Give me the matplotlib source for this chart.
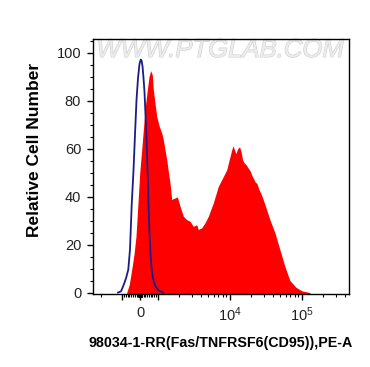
import matplotlib
matplotlib.use("Agg")
import matplotlib.pyplot as plt
import matplotlib.patheffects as pe
from matplotlib.ticker import FixedLocator, FixedFormatter
import numpy as np

plt.rcParams['font.family'] = ['Liberation Sans', 'DejaVu Sans']
plt.rcParams['mathtext.fontset'] = 'custom'
plt.rcParams['mathtext.rm'] = 'Liberation Sans'
plt.rcParams['mathtext.it'] = 'Liberation Sans'

# ---- data (fluorescence intensity vs relative cell number) ----
red_x = [-760, -611, -474, -343, -229, -114, -11, 97, 189, 303, 417, 514, 611, 703, 760, 857, 954,
         1059, 1144, 1204, 1271, 1342, 1413, 1491, 1575, 1668, 1750, 1884, 2054, 2284, 2545, 2829,
         3143, 3500, 3684, 4110, 4566, 5075, 5957, 6993, 8210, 9150, 10160, 10730, 11180, 11720,
         12290, 12920, 13780, 14450, 15160, 15910, 16960, 18080, 19270, 20550, 21540, 22590, 24080,
         25670, 27370, 29440, 32070, 36370, 42620, 50000, 58600, 68770, 83580, 101600, 130900]
red_y = [0, 3.4, 9.6, 15.9, 23.5, 37.5, 50.4, 59.5, 67.8, 77.5, 84.5, 90.0, 92.5, 90.7, 84.5, 78.9, 73.4,
         69.2, 66.5, 63.7, 59.5, 55.4, 50.4, 45.7, 38.7, 39.2, 39.4, 39.9, 36.0, 31.8, 30.4, 29.7,
         27.6, 28.3, 26.3, 27.0, 29.1, 31.8, 37.4, 44.3, 48.4, 51.2, 56.7, 59.5, 61.2, 59.5,
         57.9, 59.9, 60.8, 58.8, 55.4, 54.1, 53.3, 52.0, 50.8, 48.7, 47.5, 46.2, 45.4,
         42.9, 41.2, 38.7, 35.4, 30.4, 25.0, 18.0, 11.0, 5.1, 2.2, 0.7, 0]

blue_x = [-1155, -1049, -943, -800, -669, -571, -474, -371, -286, -200, -114, -29, 40, 86, 143, 200,
          257, 314, 371, 429, 486, 543, 600, 669, 743, 857, 1016, 1192]
blue_y = [0, 0.5, 3.0, 5.9, 9.6, 18.0, 36.7, 51.0, 65.8, 80.3, 89.4, 95.3, 97.1, 96.8, 94.4, 89.4,
          83.6, 74.0, 63.7, 51.2, 36.7, 24.2, 15.9, 9.6, 5.9, 3.0, 1.1, 0]

x_major = [-1000, 0, 1000, 1e4, 1e5]
x_major_labels = ['', '0', '', '$10^4$', '$10^5$']
x_minor = ([-2000, -3000] + [s * v for s in (-1, 1) for v in list(range(20, 100, 10)) + list(range(100, 1000, 100))]
           + [m * 1000 for m in range(2, 10)] + [m * 10000 for m in range(2, 10)] + [m * 100000 for m in range(2, 5)])
y_major = [0, 20, 40, 60, 80, 100]
y_minor = [v for v in range(0, 106, 5) if v % 20]

xlabel = '98034-1-RR(Fas/TNFRSF6(CD95)),PE-A'
ylabel = 'Relative Cell Number'
watermark = 'WWW.PTGLAB.COM'

fig = plt.figure(figsize=(3.70, 3.67), dpi=100)
ax = fig.add_axes([93/370, 73/367, 256/370, 255/367])
ax.set_xscale('symlog', linthresh=1000, linscale=0.219, base=10)

ax.fill_between(red_x, red_y, -5, color='#ff0000', lw=0, zorder=2)
ax.plot(blue_x, blue_y, color='#1c1c84', lw=1.3, zorder=3)

ax.set_xlim(-2568, 456600)
ax.set_ylim(-0.6, 105.7)

ax.xaxis.set_major_locator(FixedLocator(x_major))
ax.xaxis.set_major_formatter(FixedFormatter(x_major_labels))
ax.xaxis.set_minor_locator(FixedLocator(x_minor))
ax.yaxis.set_major_locator(FixedLocator(y_major))
ax.yaxis.set_minor_locator(FixedLocator(y_minor))

ax.tick_params(which='major', direction='out', length=4.5, width=1.0, labelsize=10.5,
               colors='black', pad=4)
ax.tick_params(which='minor', direction='out', length=2.3, width=0.8)
ax.tick_params(axis='both', which='major', labelcolor='#222222')
for s in ax.spines.values():
    s.set_linewidth(1.0)
    s.set_color('black')

ax.set_xlabel(xlabel, fontsize=10.3, fontweight='bold', labelpad=8)
ax.set_ylabel(ylabel, fontsize=12.5, fontweight='bold')
ax.yaxis.set_label_coords(-0.198, 0.563)

ax.text(0.497, 0.957, watermark, transform=ax.transAxes, ha='center', va='center',
        fontsize=18.5, style='italic', color='#ececec', zorder=1,
        path_effects=[pe.withStroke(linewidth=0.8, foreground='#d0d0d0')])

fig.savefig('out.png', dpi=100)
